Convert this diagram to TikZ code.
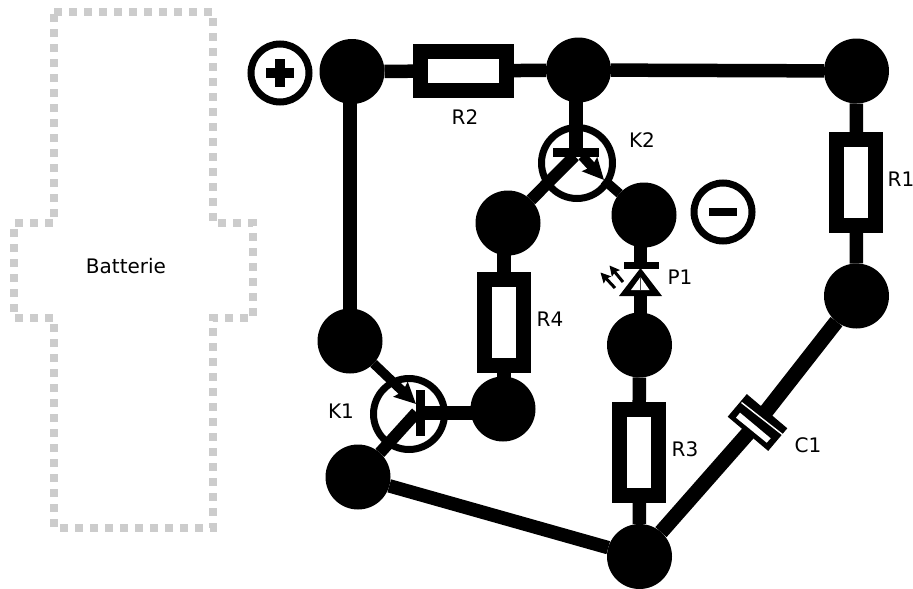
\documentclass[tikz,border=0pt]{standalone}
\usepackage{fontspec}
\setmainfont{DejaVu Sans}
\usetikzlibrary{arrows.meta}
\tikzset{
  junction/.style={circle,fill=black,minimum size=65pt,inner sep=0pt,outer sep=0pt},
  wire/.style={draw=black,line width=13.5pt},
  thinwire/.style={draw=black,line width=12pt},
  resistor/.style={rectangle,draw=black,fill=white,line width=15pt,inner sep=0pt,outer sep=4pt},
  hres/.style={resistor,minimum width=86pt,minimum height=39pt},
  vres/.style={resistor,minimum width=39pt,minimum height=86pt},
  transistor/.style={circle,draw=black,line width=7pt,minimum size=71pt,inner sep=0pt},
  terminal/.style={circle,draw=black,fill=white,line width=7pt,minimum size=58pt,inner sep=0pt},
  sign/.style={draw=black,line width=9.5pt},
  bar/.style={rectangle,fill=black,inner sep=0pt,outer sep=0pt},
  lab/.style={font=\fontsize{20}{24}\selectfont,text=black,inner sep=0pt},
  bigtip/.style={-{Stealth[length=21pt,width=20pt,inset=3pt]}},
  ray/.style={draw=black,line width=3pt,-{Stealth[length=10pt,width=10pt,inset=1.5pt]}},
  housing/.style={draw=black!20,line width=8pt,dash pattern=on 8pt off 7pt}
}
\begin{document}
\begin{tikzpicture}[x=1pt,y=-1pt]
\useasboundingbox (0,0) rectangle (913,589);
% battery housing
\draw[housing] (54,12) -- (213,12) -- (213,223) -- (253,223) -- (253,318) -- (213,318)
  -- (213,528) -- (54,528) -- (54,318) -- (14,318) -- (14,223) -- (54,223) -- cycle;
\node[lab] (batt) at (126,266) {Batterie};
% junctions
\node[junction] (n1) at (352,71.5) {};
\node[junction] (n2) at (578.5,70) {};
\node[junction] (n3) at (856.5,71) {};
\node[junction] (n4) at (856.5,296) {};
\node[junction] (n5) at (508,223) {};
\node[junction] (n6) at (644,215) {};
\node[junction] (n7) at (639.5,345) {};
\node[junction] (n8) at (503,409) {};
\node[junction] (n9) at (350,341) {};
\node[junction] (n10) at (358,477) {};
\node[junction] (n11) at (639.5,556.5) {};
% terminals
\node[terminal] (plus) at (280,73) {};
\node[terminal] (minus) at (723,212) {};
\draw[sign] (plus.center) ++(-14,0) -- ++(28,0);
\draw[sign] (plus.center) ++(0,-14) -- ++(0,28);
\draw[sign,line width=8pt] (minus.center) ++(-14,0) -- ++(28,0);
% resistors
\node[hres] (r2) at (463,71) {};
\node[vres] (r1) at (856.3,182.3) {};
\node[vres] (r4) at (504,322) {};
\node[vres] (r3) at (639,452) {};
% wires
\draw[wire] (n1) -- (r2);
\draw[wire] (r2) -- (n2);
\draw[wire] (n2) -- (n3);
\draw[wire] (n3) -- (r1);
\draw[wire] (r1) -- (n4);
\draw[wire] (r4 |- n5) -- (r4);
\draw[wire] (r4) -- (r4 |- n8);
\draw[wire] (n7) -- (r3);
\draw[wire] (r3) -- (n11);
\draw[wire] (n10) -- (n11);
\draw[wire] (n9 |- n1) -- (n9);
% transistor K2
\node[transistor] (k2) at (577,163) {};
\node[bar,minimum width=46pt,minimum height=9pt] (k2bar) at (576,152.5) {};
\coordinate (k2c) at (574.5,156);
\coordinate (k2e) at (582,156);
\coordinate (k2tip) at (604,180);
\draw[wire] (k2bar.center |- n2) -- (k2bar.center);
\draw[thinwire] (k2c) -- (n5);
\draw[thinwire,line width=9.5pt] (k2tip) -- (n6);
\draw[thinwire,line width=9.5pt,bigtip] (k2e) -- (k2tip);
% transistor K1
\node[transistor] (k1) at (409,414) {};
\node[bar,minimum width=9pt,minimum height=46pt] (k1bar) at (420.5,413) {};
\coordinate (k1c) at (416.5,412.5);
\coordinate (k1tip) at (416,404);
\draw[wire] (k1bar.center) -- (k1bar.center -| n8);
\draw[thinwire] (k1c) -- (n10);
\draw[thinwire,line width=9.5pt,bigtip] (n9) -- (k1tip);
% LED P1
\node[bar,minimum width=35pt,minimum height=7pt] (p1bar) at (641,265.5) {};
\coordinate (p1a) at (640.5,268);
\coordinate (p1b) at (619,296);
\coordinate (p1c) at (662,296);
\coordinate (p1d) at (640.5,277);
\coordinate (p1e) at (631,290);
\coordinate (p1f) at (649.5,290);
\draw[wire] (p1a |- n6) -- (p1a |- p1bar.center);
\draw[wire] (p1a |- p1c) -- (p1a |- n7);
\fill[black] (p1a) -- (p1b) -- (p1c) -- cycle;
\fill[white] (p1d) -- (p1e) -- (p1f) -- cycle;
\draw[black!70,line width=1pt] (p1d) -- (p1d |- p1e);
\coordinate (ray1s) at (615,288);
\coordinate (ray1e) at (600.5,272.5);
\coordinate (ray2s) at (623,282);
\coordinate (ray2e) at (609.5,265.5);
\draw[ray] (ray1s) -- (ray1e);
\draw[ray] (ray2s) -- (ray2e);
% capacitor C1
\coordinate (c1m) at (757.5,422.5);
\draw[wire,line width=15pt] (n4) -- (c1m);
\draw[wire,line width=15pt] (c1m) -- (n11);
\node[rectangle,fill=black,rotate=-40.2,minimum width=53pt,minimum height=29.6pt,inner sep=0pt,outer sep=0pt] (c1) at (c1m) {};
\draw[white,line width=1.4pt] (741.5,402.5) -- (783,435);
\fill[white] (740,412.7) -- (770.7,438.3) -- (766.7,442.7) -- (736,417.7) -- cycle;
% labels
\node[lab] (lr2) at (465,117) {R2};
\node[lab] (lr1) at (901,179) {R1};
\node[lab] (lk2) at (642,140) {K2};
\node[lab] (lr4) at (550,319) {R4};
\node[lab] (lp1) at (680,277) {P1};
\node[lab] (lk1) at (341,411) {K1};
\node[lab] (lr3) at (685,449) {R3};
\node[lab] (lc1) at (808,445) {C1};
\end{tikzpicture}
\end{document}
